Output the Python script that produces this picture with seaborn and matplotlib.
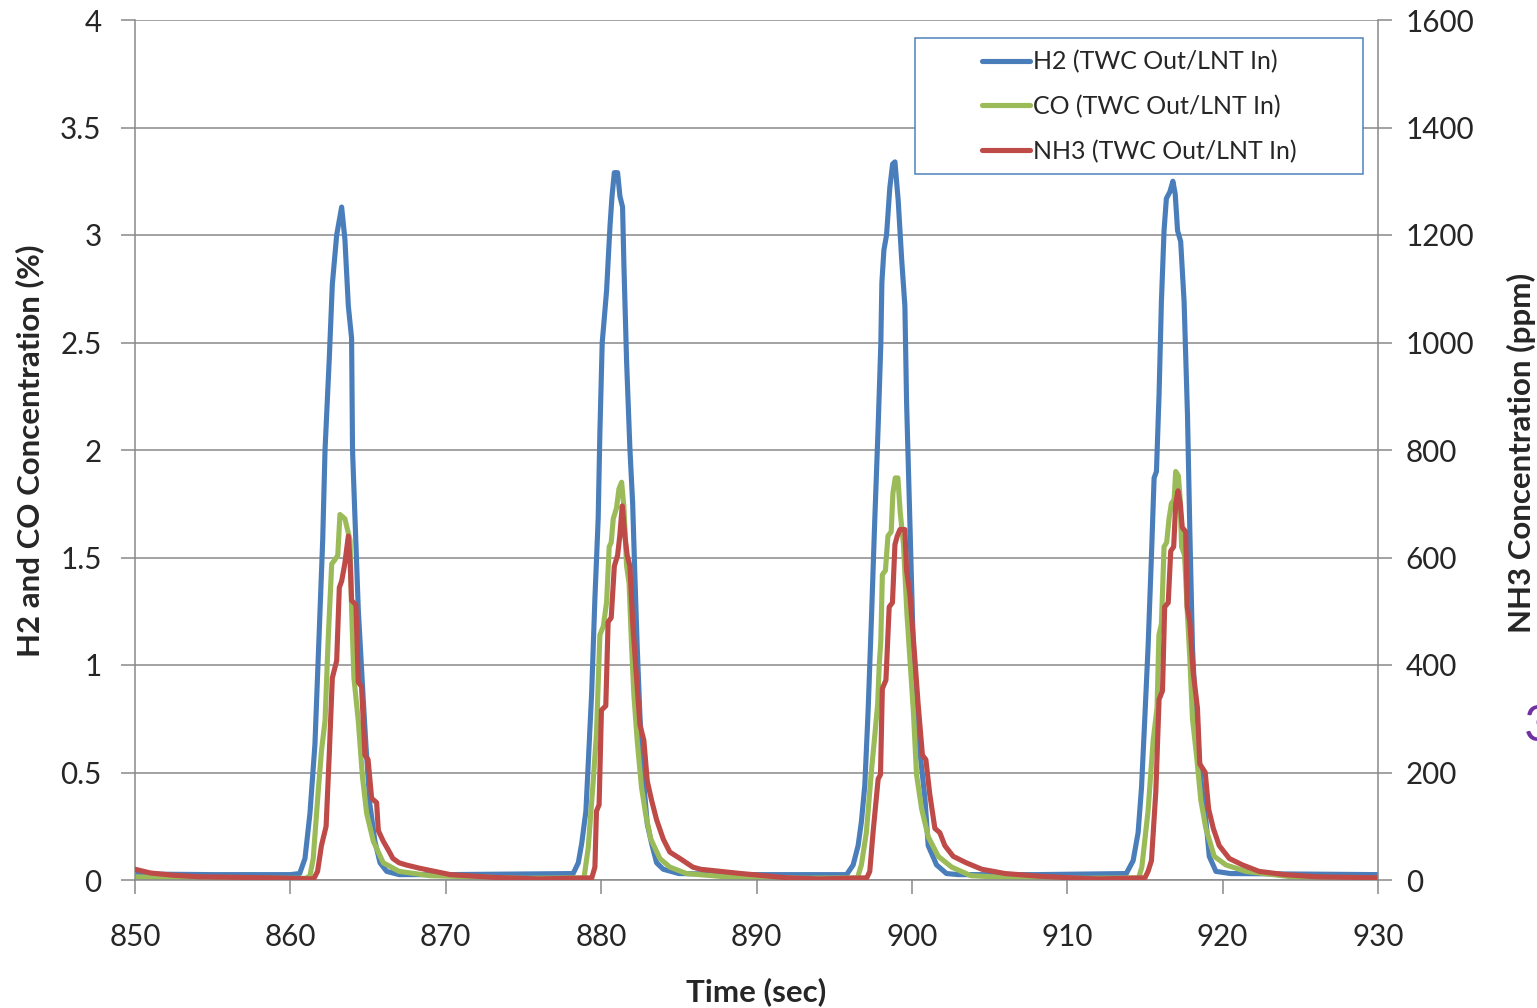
import matplotlib
matplotlib.use("Agg")
import matplotlib.pyplot as plt
import seaborn as sns
from matplotlib.lines import Line2D
from matplotlib.patches import Rectangle

# ---- H2 at TWC outlet / LNT inlet (%) ----
h2_time = [850, 855, 860, 860.6, 860.94, 861.26, 861.58, 861.86, 862.08, 862.23, 862.5, 862.7,
           862.98, 863.3, 863.51, 863.73, 863.94, 864.0, 864.37, 864.69, 864.86, 865.12, 865.44,
           865.77, 866.2, 867,
           870, 878.2, 878.53, 878.75, 879.02, 879.17, 879.39, 879.6, 879.81, 879.92, 880.07, 880.2,
           880.35, 880.57, 880.7, 880.85, 881.06, 881.21, 881.38, 881.47, 881.64, 881.85, 882.03,
           882.17, 882.32, 882.5, 882.71, 882.97, 883.25, 883.57, 884.0, 885,
           890, 895.8, 896.22, 896.54, 896.75, 896.97, 897.18, 897.4, 897.61, 897.83, 898.0, 898.07,
           898.2, 898.37, 898.58, 898.76, 898.91, 899.12, 899.34, 899.55, 899.66, 899.87, 900.08,
           900.25, 900.51, 900.84, 901.05, 901.59, 902.23, 903,
           908, 913.8, 914.24, 914.56, 914.78, 914.99, 915.2, 915.42, 915.59, 915.74, 915.91, 916.06,
           916.23, 916.38, 916.6, 916.8, 916.95, 917.1, 917.3, 917.52, 917.74, 917.89, 918.06,
           918.28, 918.6, 918.92, 919.14, 919.57, 920.5, 930]
h2_pct = [0.028, 0.025, 0.025, 0.03, 0.1, 0.31, 0.63, 1.16, 1.58, 2.0, 2.42, 2.77,
          3.0, 3.13, 2.98, 2.67, 2.52, 2.0, 1.26, 0.84, 0.63, 0.35, 0.18,
          0.08, 0.04, 0.025,
          0.025, 0.03, 0.08, 0.17, 0.32, 0.54, 0.87, 1.31, 1.68, 2.08, 2.5, 2.61,
          2.74, 3.04, 3.18, 3.29, 3.29, 3.18, 3.13, 2.85, 2.41, 2.01, 1.75,
          1.42, 1.09, 0.76, 0.48, 0.26, 0.17, 0.08, 0.05, 0.03,
          0.025, 0.025, 0.07, 0.16, 0.27, 0.44, 0.78, 1.22, 1.67, 2.11, 2.49, 2.78,
          2.93, 3.0, 3.22, 3.33, 3.34, 3.16, 2.89, 2.67, 2.22, 1.67, 1.11,
          0.89, 0.6, 0.38, 0.16, 0.07, 0.03, 0.025,
          0.025, 0.03, 0.09, 0.22, 0.43, 0.75, 1.08, 1.51, 1.87, 1.9, 2.26, 2.69,
          3.02, 3.17, 3.2, 3.25, 3.19, 3.02, 2.97, 2.69, 2.16, 1.62, 1.08,
          0.75, 0.47, 0.28, 0.11, 0.04, 0.03, 0.025]

# ---- CO at TWC outlet / LNT inlet (%) ----
co_time = [850, 852, 856, 861.0, 861.26, 861.47, 861.8, 862.0, 862.23, 862.44, 862.66, 862.87,
           863.05, 863.19, 863.51, 863.84, 863.94, 864.09, 864.37, 864.64, 864.91, 865.34, 865.98,
           867.0, 869,
           875, 878.9, 879.17, 879.49, 879.7, 879.92, 880.14, 880.35, 880.52, 880.65, 880.78, 880.99,
           881.15, 881.32, 881.47, 881.64, 881.8, 881.96, 882.1, 882.32, 882.6, 882.88, 883.2,
           883.78, 884.42, 885.5, 888,
           893, 896.5, 896.75, 897.07, 897.4, 897.61, 897.8, 897.9, 898.0, 898.1, 898.3, 898.46,
           898.67, 898.78, 898.93, 899.1, 899.25, 899.46, 899.68, 899.9, 900.1, 900.3, 900.63,
           901.06, 901.7, 902.56, 903.8, 906,
           911, 914.6, 914.8, 915.2, 915.53, 915.78, 915.9, 916.06, 916.23, 916.4, 916.55, 916.7,
           916.88, 916.98, 917.15, 917.25, 917.36, 917.55, 917.74, 917.89, 918.06, 918.32, 918.6,
           918.92, 919.46, 920.21, 921.5, 925, 930]
co_pct = [0.015, 0.01, 0.008, 0.008, 0.02, 0.1, 0.42, 0.6, 0.74, 1.13, 1.47, 1.49,
          1.51, 1.70, 1.68, 1.58, 1.26, 0.94, 0.74, 0.48, 0.31, 0.18, 0.08,
          0.04, 0.02,
          0.008, 0.01, 0.15, 0.46, 0.68, 1.14, 1.18, 1.29, 1.55, 1.57, 1.68, 1.73,
          1.82, 1.85, 1.73, 1.46, 1.38, 1.09, 0.87, 0.65, 0.43, 0.3, 0.19,
          0.1, 0.06, 0.03, 0.015,
          0.008, 0.01, 0.07, 0.22, 0.51, 0.67, 0.82, 1.0, 1.11, 1.42, 1.44, 1.6,
          1.62, 1.8, 1.87, 1.87, 1.71, 1.56, 1.24, 1.0, 0.78, 0.49, 0.33,
          0.2, 0.11, 0.06, 0.02, 0.012,
          0.008, 0.01, 0.06, 0.32, 0.65, 0.8, 1.14, 1.19, 1.55, 1.57, 1.68, 1.75,
          1.77, 1.9, 1.88, 1.79, 1.55, 1.51, 1.23, 1.03, 0.75, 0.58, 0.37,
          0.24, 0.11, 0.07, 0.04, 0.01, 0.008]

# ---- NH3 at TWC outlet / LNT inlet (ppm) ----
nh3_time = [850, 851, 852.4, 854.1, 858.8, 861.5, 861.75, 862.0, 862.3, 862.5, 862.7, 862.98,
            863.15, 863.3, 863.5, 863.73, 863.85, 863.94, 864.22, 864.37, 864.58, 864.8, 865.0,
            865.23, 865.55, 865.66, 865.98, 866.3, 866.6, 867.0, 867.45, 868.3, 870.3, 873,
            876, 879.4, 879.6, 879.7, 879.87, 880.02, 880.3, 880.45, 880.65, 880.85, 881.06, 881.2,
            881.36, 881.53, 881.68, 881.85, 882.03, 882.24, 882.5, 882.75, 882.97, 883.25, 883.57,
            884.0, 884.42, 885.07, 885.9, 886.4, 889, 892,
            894, 897.1, 897.29, 897.5, 897.83, 897.98, 898.1, 898.33, 898.54, 898.75, 898.91, 899.06,
            899.23, 899.55, 899.66, 899.87, 900.13, 900.4, 900.68, 900.9, 901.15, 901.48, 901.8,
            902.12, 902.66, 903.5, 904.5, 906, 908.2, 911,
            912, 915.0, 915.2, 915.42, 915.7, 915.91, 916.13, 916.27, 916.5, 916.66, 916.85, 916.98,
            917.13, 917.28, 917.4, 917.62, 917.72, 917.89, 918.1, 918.38, 918.53, 918.88, 919.1,
            919.4, 919.78, 920.43, 921.28, 922.35, 924, 926, 930]
nh3_ppm = [20, 13, 9, 6, 4, 2, 16, 64, 100, 232, 376, 408,
           544, 556, 588, 640, 588, 520, 512, 368, 360, 232, 224,
           152, 144, 92, 72, 56, 40, 32, 28, 22, 10, 5,
           2, 4, 24, 128, 140, 316, 324, 480, 488, 584, 604, 640,
           696, 640, 604, 584, 480, 392, 288, 260, 184, 148, 112,
           76, 52, 40, 24, 20, 12, 4,
           2, 4, 16, 88, 188, 196, 356, 372, 508, 516, 624, 640,
           652, 652, 576, 532, 436, 328, 232, 224, 160, 96, 88,
           64, 44, 32, 20, 12, 7, 3,
           2, 4, 16, 36, 164, 336, 352, 508, 516, 612, 620, 700,
           724, 700, 656, 648, 508, 480, 388, 320, 216, 200, 132,
           96, 64, 40, 28, 16, 10, 6, 4]

series_labels = ["H2 (TWC Out/LNT In)", "CO (TWC Out/LNT In)", "NH3 (TWC Out/LNT In)"]
x_ticks = [850, 860, 870, 880, 890, 900, 910, 920, 930]
left_ticks = [0, 0.5, 1, 1.5, 2, 2.5, 3, 3.5, 4]
left_ticklabels = ["0", "0.5", "1", "1.5", "2", "2.5", "3", "3.5", "4"]
right_ticks = [0, 200, 400, 600, 800, 1000, 1200, 1400, 1600]

sns.set_style("white")
plt.rcParams["font.family"] = ["Lato", "DejaVu Sans"]

BLUE, GREEN, RED = "#4A7EBB", "#9BBB59", "#BE4B48"
GRID = "#898989"
LW = 3.7

W, H = 1537, 1008
fig = plt.figure(figsize=(W / 100, H / 100), dpi=100)
L, R, B, T = 135, 1378, 880, 20
ax = fig.add_axes([L / W, 1 - B / H, (R - L) / W, (B - T) / H])
ax2 = ax.twinx()

sns.lineplot(x=h2_time, y=h2_pct, ax=ax, color=BLUE, lw=LW, estimator=None)
sns.lineplot(x=co_time, y=co_pct, ax=ax, color=GREEN, lw=LW, estimator=None)
sns.lineplot(x=nh3_time, y=nh3_ppm, ax=ax2, color=RED, lw=LW, estimator=None)

ax.set_xlim(850, 930)
ax.set_ylim(0, 4)
ax2.set_ylim(0, 1600)
ax.set_xticks(x_ticks)
ax.set_yticks(left_ticks)
ax.set_yticklabels(left_ticklabels)
ax2.set_yticks(right_ticks)
ax.set_xlabel("")
ax.set_ylabel("")
ax2.set_ylabel("")

ax.yaxis.grid(True, color=GRID, lw=1.1)
ax.xaxis.grid(False)
ax.set_axisbelow(True)

for s in ["top", "right"]:
    ax.spines[s].set_visible(False)
for s in ["left", "bottom"]:
    ax.spines[s].set_color(GRID)
    ax.spines[s].set_linewidth(1.1)
for s in ["top", "left", "bottom"]:
    ax2.spines[s].set_visible(False)
ax2.spines["right"].set_color(GRID)
ax2.spines["right"].set_linewidth(1.1)

TICK_FS = 21.3
ax.tick_params(axis="y", direction="out", length=10, width=1.1, color=GRID,
               labelsize=TICK_FS, pad=14, left=True)
ax.tick_params(axis="x", direction="out", length=10, width=1.1, color=GRID,
               labelsize=TICK_FS, pad=21, bottom=True)
ax2.tick_params(axis="y", direction="out", length=10, width=1.1, color=GRID,
                labelsize=TICK_FS, pad=10, right=True)

# axis titles
LAB_FS = 22.5
fig.text(756 / W, 1 - 992 / H, "Time (sec)", ha="center", va="center",
         fontsize=LAB_FS, fontweight="bold")
fig.text(30 / W, 1 - 451 / H, "H2 and CO Concentration (%)", ha="center", va="center",
         rotation=90, fontsize=LAB_FS, fontweight="bold")
fig.text(1521 / W, 1 - 453 / H, "NH3 Concentration (ppm)", ha="center", va="center",
         rotation=90, fontsize=LAB_FS, fontweight="bold")

# legend box and entries
fig.patches.append(Rectangle((915 / W, 1 - 174 / H), (1363 - 915) / W, (174 - 38) / H,
                             transform=fig.transFigure, fill=True, facecolor="white",
                             edgecolor="#4F81BD", lw=1.1, zorder=5))
handles = [Line2D([], [], color=c, lw=LW) for c in (BLUE, GREEN, RED)]
leg = fig.legend(handles, series_labels, loc="upper left",
                 bbox_to_anchor=(962 / W, 1 - 30 / H), frameon=False,
                 fontsize=18, handlelength=1.9, handletextpad=0.15,
                 labelspacing=0.86, borderpad=0.3)
leg.set_zorder(6)

# stray marker at the right margin
fig.text(1524 / W, 1 - 741 / H, "3", ha="left", va="baseline", fontsize=36,
         color="#7030A0")

fig.savefig("out.png", dpi=100, facecolor="white")
